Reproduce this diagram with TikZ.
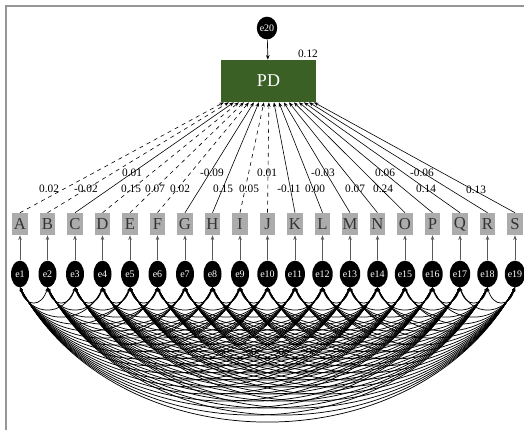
\documentclass[tikz,border=0pt]{standalone}
\usepackage{fontspec}
\setmainfont{Liberation Serif}
\usetikzlibrary{arrows.meta, shapes.geometric}

\definecolor{pdgreen}{RGB}{58,96,38}
\definecolor{obsgray}{RGB}{172,172,172}
\definecolor{framegray}{RGB}{150,150,150}

\begin{document}
\begin{tikzpicture}[x=0.75pt, y=-0.75pt, >={Stealth[length=3.5pt, width=2.6pt]},
    obs/.style={fill=obsgray, text=black!80, minimum width=11.5pt, minimum height=16.5pt,
        inner sep=0pt, font=\fontsize{12.5}{12.5}\selectfont},
    err/.style={ellipse, fill=black, text=white, minimum width=13.5pt, minimum height=20pt,
        inner sep=0pt, font=\fontsize{7.5}{7.5}\selectfont},
    coef/.style={inner sep=0.5pt, font=\fontsize{8.5}{8.5}\selectfont},
    cov/.style={<->, line width=0.55pt, >={Stealth[length=2.6pt, width=2pt]}}]
    \useasboundingbox (0, 0) rectangle (524, 430);

    \draw [framegray, line width=0.9pt] (6, 430) -- (6, 6) -- (524, 6);

    \node [err, minimum width=12.5pt, minimum height=17pt] (e20) at (267, 28) {e20};
    \node [fill=pdgreen, text=white, minimum width=71pt, minimum height=31.5pt,
        font=\fontsize{13.5}{13.5}\selectfont] (pd) at (268.5, 81) {PD};
    \node [coef, anchor=south east] (r2) at ([xshift=2pt, yshift=1pt]pd.north east) {0.12};
    \draw [->, line width=0.5pt] (e20) -- (pd);

    \foreach \lab/\sty [count=\i] in {A/dashed, B/dashed, C/solid, D/dashed, E/dashed,
            F/dashed, G/solid, H/solid, I/dashed, J/dashed, K/solid, L/solid, M/solid,
            N/solid, O/solid, P/solid, Q/solid, R/solid, S/solid} {
        \node [obs] (obs\i) at ({20 + 27.5*(\i-1)}, 224) {\lab};
        \node [err] (e\i) at ({20 + 27.5*(\i-1)}, 274) {e\i};
        \draw [->, black!65, line width=0.6pt] (e\i) -- (obs\i);
        \draw [->, \sty, line width=0.45pt] (obs\i.north) -- ([xshift={3.75*\i-1.5}]pd.south west);
        }

    \foreach \x/\y/\val [count=\k] in {49/189/0.02, 86/189/-0.02, 132/173/0.01, 131/189/0.15,
            155/189/0.07, 180/189/0.02, 212/173/-0.09, 223/189/0.15, 249/189/0.05,
            267/173/0.01, 289/189/-0.11, 315/189/0.00, 323/173/-0.03, 355/189/0.07,
            383/189/0.24, 385/173/0.06, 422/173/-0.06, 426/189/0.14, 476/190/0.13} {
        \node [coef] (w\k) at (\x, \y) {\val};
        }

    \foreach \i in {1,...,18} {
        \pgfmathtruncatemacro\next{\i + 1}
        \foreach \j in {\next,...,19} {
            \pgfmathsetmacro\span{27.5*(\j - \i)}
            \pgfmathsetmacro\drop{(8 + 7*(\j - \i))/0.75}
            \draw [cov] (e\i.south) .. controls +(0.2*\span, \drop) and +(-0.2*\span, \drop) .. (e\j.south);
            }
        }
\end{tikzpicture}
\end{document}
